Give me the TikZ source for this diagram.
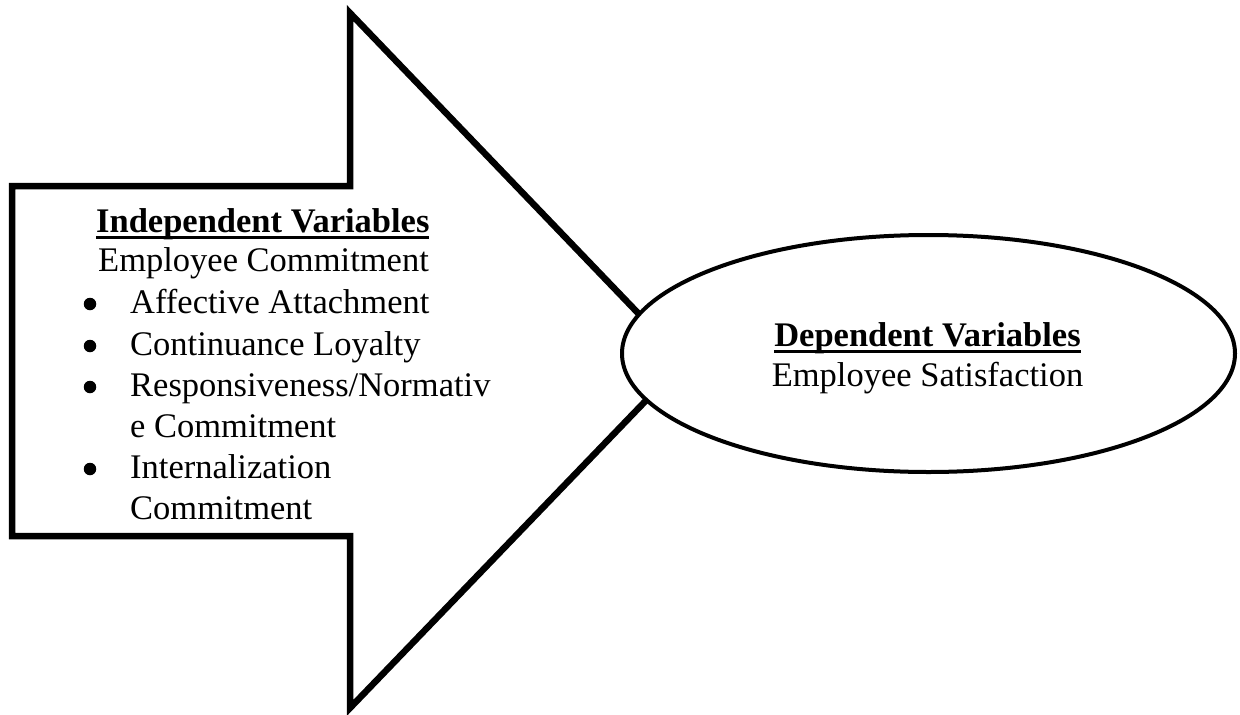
\documentclass[tikz,border=0pt]{standalone}
\usepackage{fontspec}
\setmainfont{Liberation Serif}
\usetikzlibrary{shapes.geometric}
\newsavebox\headbox
\newcommand{\ulhead}[1]{\sbox\headbox{\textbf{#1}}\rlap{\rule[-7pt]{\wd\headbox}{3.5pt}}\usebox\headbox}
\begin{document}
\begin{tikzpicture}[x=1pt, y=-1pt, every node/.style={inner sep=0pt, font=\fontsize{34.5}{41}\selectfont}, txt/.style={anchor=base west}, dot/.style={circle, fill, minimum size=12.5pt}]
\useasboundingbox (0,0) rectangle (1240,715);
% big arrow
\draw[line width=6.5pt] (12,186) -- (350,186) -- (350,13) -- (684,361) -- (350,708) -- (350,536) -- (12,536) -- cycle;
\node[ellipse, draw, fill=white, line width=4pt, minimum width=613pt, minimum height=237pt] (dv) at (928.5,353.5) {};
% left side
\node[txt] (ivhead) at (96,232) {\ulhead{Independent Variables}};
\node[txt] (ivsub) at (98,271) {Employee Commitment};
\node[dot] (dotA) at (90,304) {};
\node[txt] (itemA) at (130,313) {Affective Attachment};
\node[dot] (dotB) at (90,346) {};
\node[txt] (itemB) at (130,355) {Continuance Loyalty};
\node[dot] (dotC) at (90,387) {};
\node[txt] (itemC) at (130,396) {Responsiveness/Normativ};
\node[txt] (itemCc) at (130,437) {e Commitment};
\node[dot] (dotD) at (90,469) {};
\node[txt] (itemD) at (130,478) {Internalization};
\node[txt] (itemDd) at (130,519) {Commitment};
% right side
\node[anchor=base] (dvhead) at (927.5,346) {\ulhead{Dependent Variables}};
\node[anchor=base] (dvsub) at (927.5,386) {Employee Satisfaction};
\end{tikzpicture}
\end{document}
